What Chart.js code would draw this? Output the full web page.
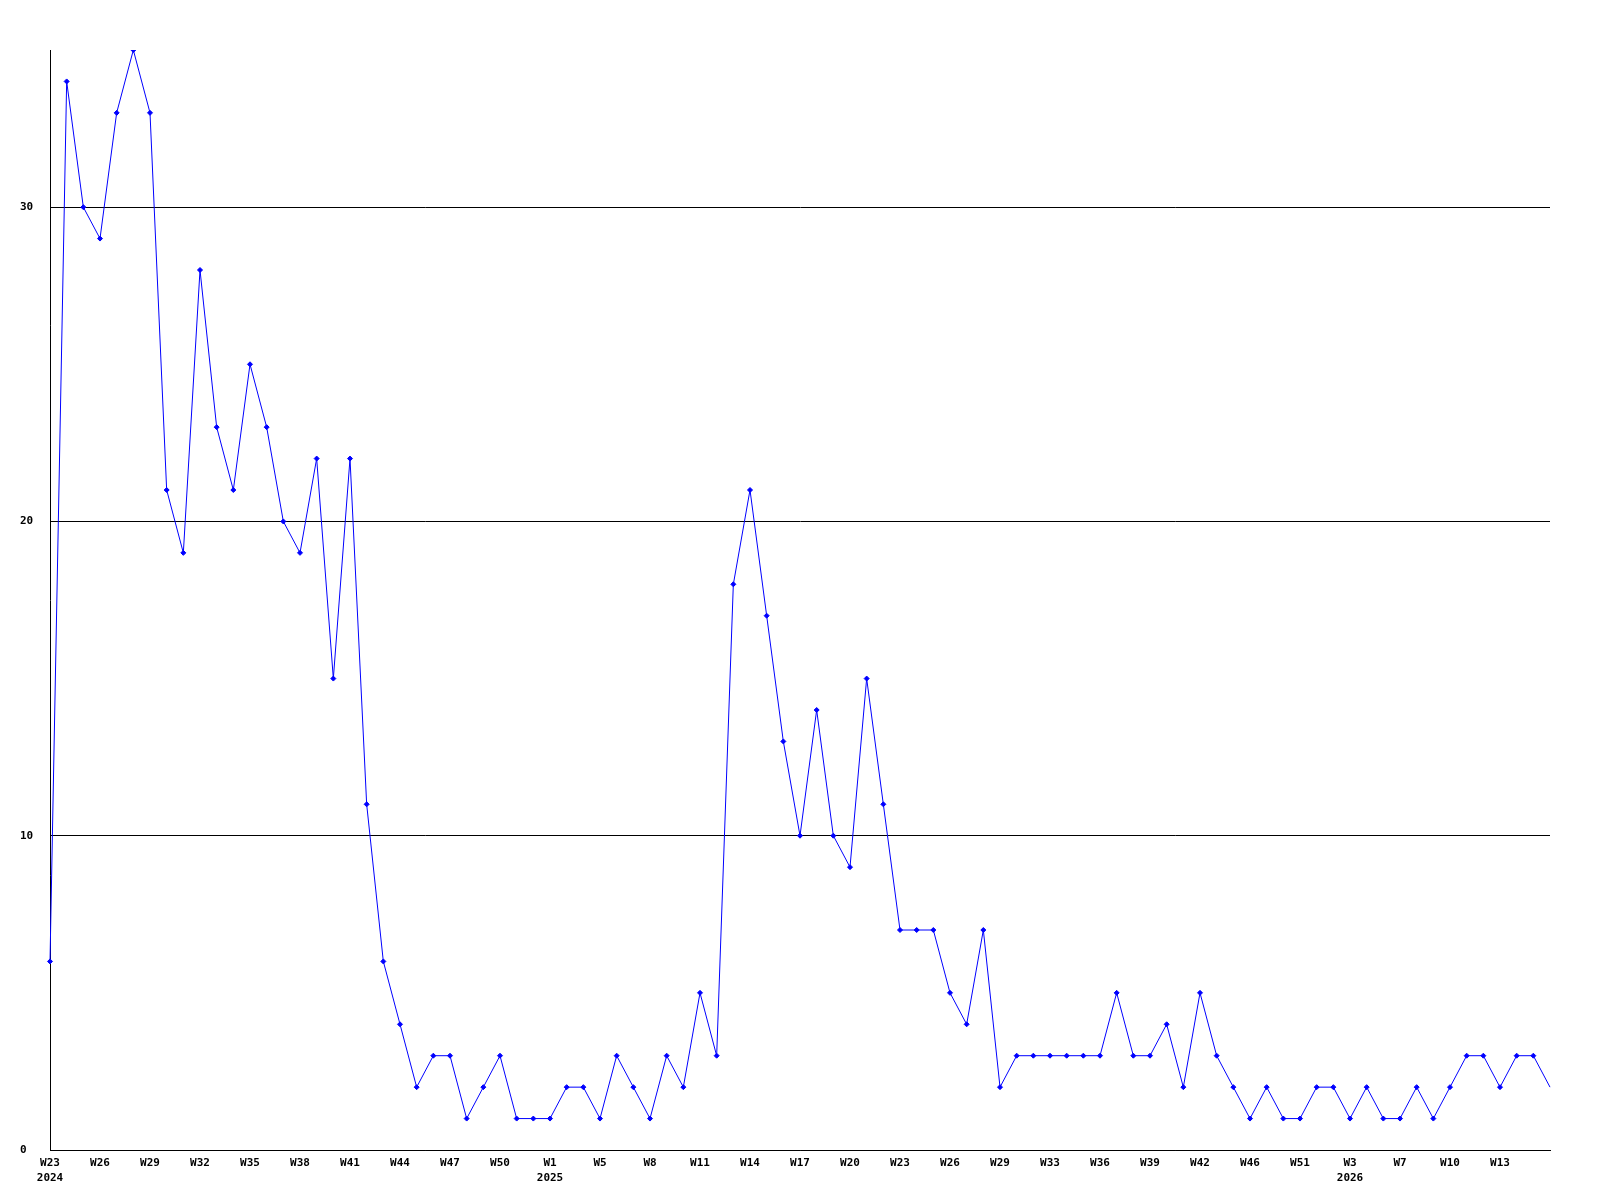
<!DOCTYPE html>
<html>
<head>
<meta charset="utf-8">
<script src="https://cdn.jsdelivr.net/npm/chart.js@4"></script>
<style>
  body { margin: 0; background: #fff; }
  canvas { display: block; }
</style>
</head>
<body>
<canvas id="chart" width="1600" height="1200"></canvas>
<script>
// weekly counts, one point per week (W23 2024 onwards)
const counts = [
    6, 34, 30, 29, 33, 35, 33, 21, 19, 28,
    23, 21, 25, 23, 20, 19, 22, 15, 22, 11,
    6, 4, 2, 3, 3, 1, 2, 3, 1, 1,
    1, 2, 2, 1, 3, 2, 1, 3, 2, 5,
    3, 18, 21, 17, 13, 10, 14, 10, 9, 15,
    11, 7, 7, 7, 5, 4, 7, 2, 3, 3,
    3, 3, 3, 3, 5, 3, 3, 4, 2, 5,
    3, 2, 1, 2, 1, 1, 2, 2, 1, 2,
    1, 1, 2, 1, 2, 3, 3, 2, 3, 3,
    2
];

// labels shown under every third point
const weekTicks = ['W23', 'W26', 'W29', 'W32', 'W35', 'W38', 'W41', 'W44', 'W47', 'W50',
    'W1', 'W5', 'W8', 'W11', 'W14', 'W17', 'W20', 'W23', 'W26', 'W29',
    'W33', 'W36', 'W39', 'W42', 'W46', 'W51', 'W3', 'W7', 'W10', 'W13'];
const yearTicks = [[0, '2024'], [10, '2025'], [26, '2026']];
const yTicks = [0, 10, 20, 30];
const tickEvery = 3;

const categories = counts.map((v, i) => {
    if (i % tickEvery !== 0) return '';
    const t = i / tickEvery;
    const week = weekTicks[t];
    if (week === undefined) return '';
    const year = yearTicks.find(y => y[0] === t);
    return year ? [week, year[1]] : week;
});

const tickFont = { family: 'DejaVu Sans Mono', size: 11, weight: 'bold', lineHeight: 1.35 };

new Chart(document.getElementById('chart').getContext('2d'), {
    type: 'line',
    data: {
        labels: categories,
        datasets: [{
            data: counts,
            borderColor: '#0000ff',
            backgroundColor: '#0000ff',
            borderWidth: 1,
            tension: 0,
            pointStyle: 'rectRot',
            pointRadius: ctx => ctx.dataIndex === counts.length - 1 ? 0 : 2.5,
            pointBorderWidth: 1
        }]
    },
    options: {
        responsive: false,
        animation: false,
        layout: { padding: { top: 50, right: 50, left: 20, bottom: 0 } },
        plugins: { legend: { display: false }, tooltip: { enabled: false } },
        scales: {
            x: {
                offset: false,
                grid: { display: false, drawTicks: false },
                border: { display: true, color: '#000', width: 1 },
                ticks: {
                    autoSkip: false,
                    maxRotation: 0,
                    minRotation: 0,
                    padding: 6,
                    color: '#000',
                    font: tickFont
                },
                afterFit: axis => { axis.height = 50; }
            },
            y: {
                min: 0,
                max: 35,
                afterBuildTicks: axis => { axis.ticks = yTicks.map(v => ({ value: v })); },
                grid: { color: '#000', lineWidth: 1, drawTicks: false },
                border: { display: true, color: '#000', width: 1 },
                ticks: {
                    crossAlign: 'far',
                    padding: 0,
                    color: '#000',
                    font: tickFont
                },
                afterFit: axis => { axis.width = 30; }
            }
        }
    }
});
</script>
</body>
</html>
